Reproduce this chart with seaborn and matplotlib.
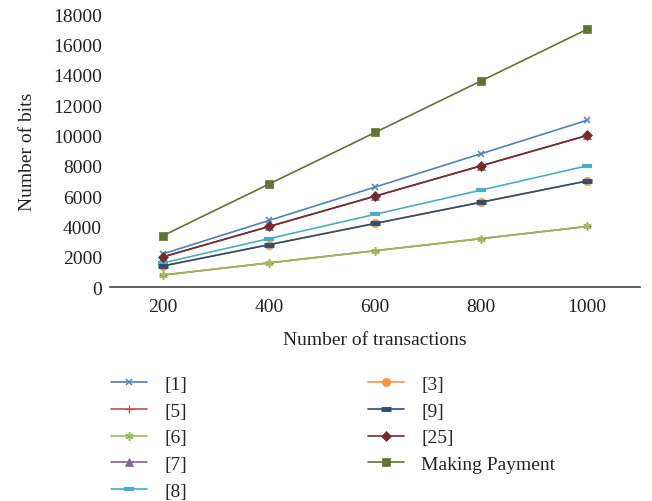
import numpy as np
import pandas as pd
import matplotlib.pyplot as plt
import seaborn as sns

# data
transactions = [200, 400, 600, 800, 1000]
bits_1 = [2200, 4400, 6600, 8800, 11000]
bits_3 = [1400, 2800, 4200, 5600, 7000]
bits_5 = [800, 1600, 2400, 3200, 4000]
bits_6 = [800, 1600, 2400, 3200, 4000]
bits_7 = [2000, 4000, 6000, 8000, 10000]
bits_8 = [1600, 3200, 4800, 6400, 8000]
bits_9 = [1400, 2800, 4200, 5600, 7000]
bits_25 = [2000, 4000, 6000, 8000, 10000]
bits_payment = [3400, 6800, 10200, 13600, 17000]

# style per series: (label, values, colour, marker, size, edge width)
series = [
    ('[1]', bits_1, '#4F81BD', 'x', 5, 1.1),
    ('[3]', bits_3, '#F79646', 'o', 6, 0.5),
    ('[5]', bits_5, '#C0504D', '+', 6, 1.0),
    ('[6]', bits_6, '#9BBB59', (6, 2, 0), 6, 1.1),
    ('[7]', bits_7, '#8064A2', '^', 6, 0.5),
    ('[8]', bits_8, '#4BACC6', '_', 7, 3.0),
    ('[9]', bits_9, '#2C4D75', '_', 7, 3.5),
    ('[25]', bits_25, '#772C2A', 'D', 5, 0.5),
    ('Making Payment', bits_payment, '#5F7530', 's', 6, 0.5),
]
legend_order = ['[1]', '[5]', '[6]', '[7]', '[8]', '[3]', '[9]', '[25]', 'Making Payment']

sns.set_style('white')
plt.rcParams['font.family'] = ['Liberation Serif', 'DejaVu Serif']
plt.rcParams['font.size'] = 14

fig = plt.figure(figsize=(6.52, 5.02), dpi=100)
ax = fig.add_axes([0.169, 0.426, 0.813, 0.544])

for label, vals, color, marker, ms, mew in series:
    sns.lineplot(x=transactions, y=vals, ax=ax, color=color, marker=marker,
                 markersize=ms, markeredgecolor=color, markerfacecolor=color,
                 markeredgewidth=mew, linewidth=1.2, label=label)

ax.set_xlim(100, 1100)
ax.set_ylim(0, 18000)
ax.set_xticks(transactions)
ax.set_yticks(np.arange(0, 18001, 2000))
ax.tick_params(axis='both', length=0, labelsize=14, colors='#222222')
ax.tick_params(axis='x', pad=8)
ax.tick_params(axis='y', pad=6)
for s in ['top', 'right', 'left']:
    ax.spines[s].set_visible(False)
ax.spines['bottom'].set_color('#444444')
ax.spines['bottom'].set_linewidth(1.2)
ax.set_xlabel('Number of transactions', fontsize=14, color='#222222', labelpad=11)
ax.set_ylabel('Number of bits', fontsize=14, color='#222222', labelpad=12)

handles, labels = ax.get_legend_handles_labels()
lookup = dict(zip(labels, handles))
ax.get_legend().remove()
fig.legend([lookup[l] for l in legend_order], legend_order, ncol=2,
           loc='upper left', bbox_to_anchor=(0.158, 0.266), frameon=False,
           fontsize=14, handlelength=1.85, handletextpad=0.9,
           labelspacing=0.47, columnspacing=9.3, borderaxespad=0)

fig.savefig('out.png', dpi=100)
